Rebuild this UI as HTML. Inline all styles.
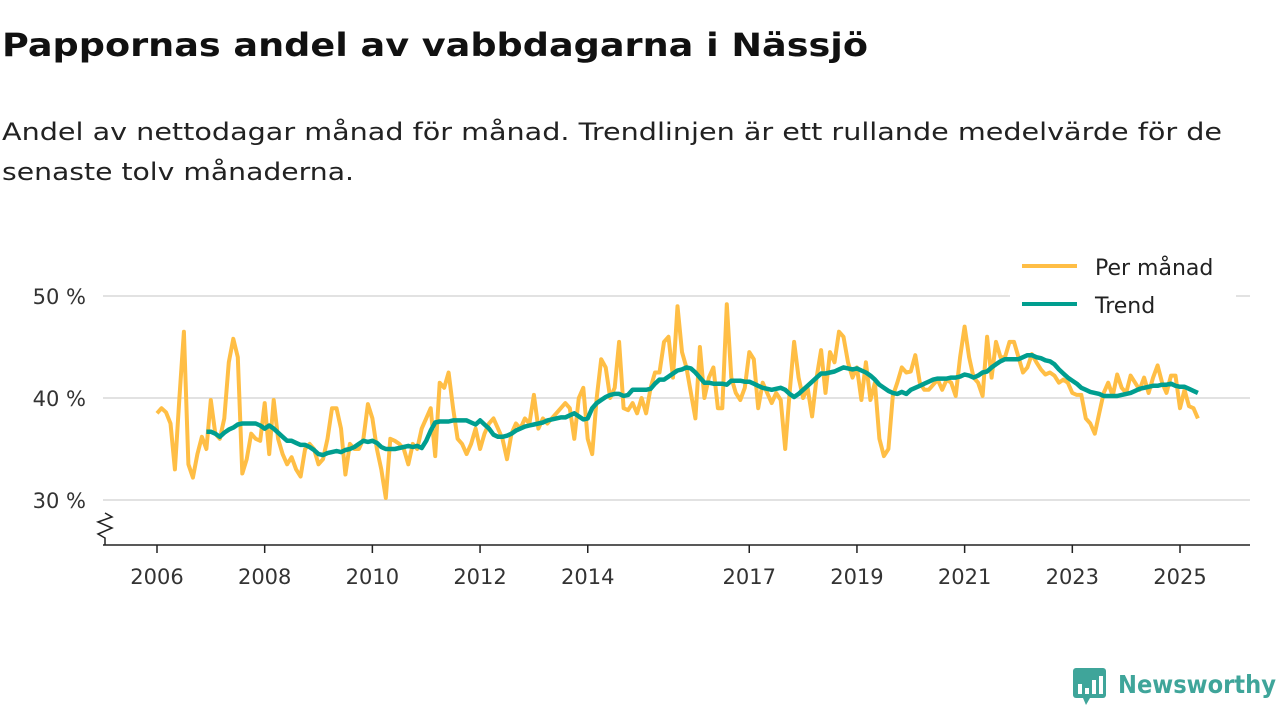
<!DOCTYPE html>
<html><head><meta charset="utf-8"><style>
html,body{margin:0;padding:0;background:#fff;}
svg{display:block;font-family:"DejaVu Sans","Liberation Sans",sans-serif;}
</style></head><body>
<svg id="chart" width="1280" height="720" viewBox="0 0 1280 720" xmlns="http://www.w3.org/2000/svg">
<text x="2" y="56" font-size="32" font-weight="bold" fill="#111" textLength="866" lengthAdjust="spacingAndGlyphs">Pappornas andel av vabbdagarna i Nässjö</text>
<text x="2" y="140" font-size="24" fill="#222" textLength="1220" lengthAdjust="spacingAndGlyphs">Andel av nettodagar månad för månad. Trendlinjen är ett rullande medelvärde för de</text>
<text x="2" y="180" font-size="24" fill="#222" textLength="352" lengthAdjust="spacingAndGlyphs">senaste tolv månaderna.</text>
<g id="grid"></g>
<g id="yticks"></g>
<g id="xaxis">
<line x1="103" y1="545" x2="1250" y2="545" stroke="#222" stroke-width="1.5"/>
<path d="M105 545 L105 538 L98 534 L112 528 L98 522 L112 517 L105 513" fill="none" stroke="#222" stroke-width="1.5"/>
</g>
<g id="series"></g>
<g>
<rect x="1010" y="248" width="226" height="72" fill="#fff"/>
<line x1="1022" y1="266" x2="1077" y2="266" stroke="#FFBE45" stroke-width="4"/>
<text x="1095" y="275" font-size="22" fill="#222">Per månad</text>
<line x1="1022" y1="304" x2="1077" y2="304" stroke="#009E8F" stroke-width="4"/>
<text x="1095" y="313" font-size="22" fill="#222">Trend</text>
</g>
<g>
<rect x="1073" y="668" width="33" height="30" rx="3" fill="#3FA59A"/>
<path d="M1083 698 L1090 698 L1086 705 Z" fill="#3FA59A"/>
<rect x="1078" y="684" width="4" height="10" fill="#fff"/>
<rect x="1085" y="688" width="4" height="6" fill="#fff"/>
<rect x="1092" y="680" width="4" height="14" fill="#fff"/>
<rect x="1099" y="676" width="4" height="18" fill="#fff"/>
<text x="1118" y="693" font-size="25" font-weight="bold" fill="#3FA59A" textLength="158" lengthAdjust="spacingAndGlyphs">Newsworthy</text>
</g>
</svg>
<script>
const startYear = 2006;
const monthly = [
38.5,39,38.6,37.5,33,40,46.5,33.5,32.2,34.5,36.2,35,
39.8,36.5,36,38,43.5,45.8,44,32.6,34,36.5,36,35.8,
39.5,34.5,39.8,36,34.5,33.5,34.2,33,32.3,35,35.5,35,
33.5,34,36,39,39,37,32.5,35.5,35,35,36,39.4,
38,35,33,30.2,36,35.8,35.5,35,33.5,35.5,35,37,
38,39,34.3,41.5,41,42.5,39,36,35.5,34.5,35.5,37,
35,36.5,37.5,38,37,36,34,36.5,37.5,37,38,37.5,
40.3,37,38,37.5,38,38.5,39,39.5,39,36,40,41,
36,34.5,40,43.8,43,40,41,45.5,39,38.8,39.5,38.5,
40,38.5,41,42.5,42.5,45.5,46,42,49,44.5,43,40.5,
38,45,40,42,43,39,39,49.2,42,40.5,39.8,41,
44.5,43.8,39,41.5,40.5,39.5,40.5,39.8,35,40.5,45.5,42,
40,41,38.2,42,44.7,40.5,44.5,43.5,46.5,46,43.5,42,
43,39.8,43.5,39.8,41.5,36,34.3,35,40.2,41.5,43,42.5,
42.6,44.2,41.5,40.8,40.8,41.3,41.8,40.8,41.8,41.5,40.2,44,
47,44,42,41.5,40.2,46,42,45.5,44,44,45.5,45.5,
44,42.5,43,44.3,43.5,42.8,42.3,42.5,42.2,41.5,41.8,41.5,
40.5,40.3,40.3,38,37.5,36.5,38.5,40.5,41.5,40.2,42.3,41,
40.5,42.2,41.5,40.8,42,40.5,42,43.2,41.5,40.5,42.2,42.2,
39,40.8,39.2,39,38
];
const trendStartIndex = 11;
const trend = [
36.7,
36.7,36.5,36.2,36.6,36.9,37.1,37.4,37.5,37.5,37.5,37.5,37.3,
37.0,37.3,37.0,36.6,36.2,35.8,35.8,35.6,35.4,35.4,35.2,34.9,
34.5,34.4,34.6,34.7,34.8,34.7,34.9,35.0,35.2,35.5,35.8,35.7,
35.8,35.6,35.2,35.0,35.0,35.0,35.1,35.2,35.3,35.2,35.3,35.1,
35.8,36.8,37.6,37.7,37.7,37.7,37.8,37.8,37.8,37.8,37.6,37.4,
37.8,37.4,37.0,36.4,36.2,36.2,36.3,36.5,36.8,37.0,37.2,37.3,
37.4,37.5,37.6,37.8,37.9,38.0,38.1,38.1,38.3,38.5,38.2,37.9,
38.0,39.0,39.5,39.8,40.1,40.3,40.4,40.4,40.2,40.3,40.8,40.8,
40.8,40.8,40.9,41.4,41.8,41.8,42.1,42.4,42.7,42.8,43.0,42.9,
42.5,42.0,41.5,41.5,41.4,41.4,41.4,41.3,41.7,41.7,41.7,41.6,
41.6,41.4,41.2,41.0,40.9,40.8,40.9,41.0,40.8,40.4,40.1,40.4,
40.8,41.2,41.6,42.0,42.4,42.4,42.5,42.6,42.8,43.0,42.9,42.8,
42.9,42.7,42.5,42.2,41.8,41.3,41.0,40.7,40.5,40.4,40.6,40.4,
40.8,41.0,41.2,41.4,41.6,41.8,41.9,41.9,41.9,42.0,42.0,42.1,
42.3,42.2,42.0,42.2,42.5,42.6,43.0,43.3,43.6,43.8,43.8,43.8,
43.8,44.0,44.2,44.2,44.0,43.9,43.7,43.6,43.3,42.8,42.4,42.0,
41.7,41.4,41.0,40.8,40.6,40.5,40.4,40.2,40.2,40.2,40.2,40.3,
40.4,40.5,40.7,40.9,41.0,41.1,41.2,41.2,41.3,41.3,41.4,41.2,
41.1,41.1,40.9,40.7,40.5
];
const yTicks = [30, 40, 50];
const xTickYears = [2006, 2008, 2010, 2012, 2014, 2017, 2019, 2021, 2023, 2025];

const NS = "http://www.w3.org/2000/svg";
function xScale(monthIndex) { return 157 + monthIndex * (1180 - 157) / (19 * 12); }
function yScale(v) { return 398 - (v - 40) * 10.2; }
function mk(tag, attrs, parent) {
  const e = document.createElementNS(NS, tag);
  for (const k in attrs) e.setAttribute(k, attrs[k]);
  parent.appendChild(e);
  return e;
}
const grid = document.getElementById('grid');
const yt = document.getElementById('yticks');
yTicks.forEach(t => {
  const l = mk('line', {x1: 103, x2: 1250, y1: yScale(t), y2: yScale(t), stroke: '#d9d9d9', 'stroke-width': 1.5}, grid);
  
  
  const tx = mk('text', {x: 86, y: yScale(t) + 8, 'font-size': 21, fill: '#333', 'text-anchor': 'end'}, yt);
  tx.textContent = t + ' %';
  
  
});
const xa = document.getElementById('xaxis');
xTickYears.forEach(yr => {
  const x = xScale((yr - startYear) * 12);
  const tk = mk('line', {x1: x, x2: x, y1: 545, y2: 553, stroke: '#222', 'stroke-width': 1.5}, xa);
  
  
  const tx = mk('text', {x: x, y: 584, 'font-size': 21, fill: '#333', 'text-anchor': 'middle'}, xa);
  tx.textContent = yr;
  
  
});
const series = document.getElementById('series');
const mPts = monthly.map((v, i) => xScale(i).toFixed(1) + ',' + yScale(v).toFixed(1)).join(' ');
const mLine = mk('polyline', {points: mPts, fill: 'none', stroke: '#FFBE45', 'stroke-width': 4, 'stroke-linejoin': 'round'}, series);


const tPts = trend.map((v, i) => xScale(i + trendStartIndex).toFixed(1) + ',' + yScale(v).toFixed(1)).join(' ');
const tLine = mk('polyline', {points: tPts, fill: 'none', stroke: '#009E8F', 'stroke-width': 4.5, 'stroke-linejoin': 'round'}, series);


</script>
</body></html>
